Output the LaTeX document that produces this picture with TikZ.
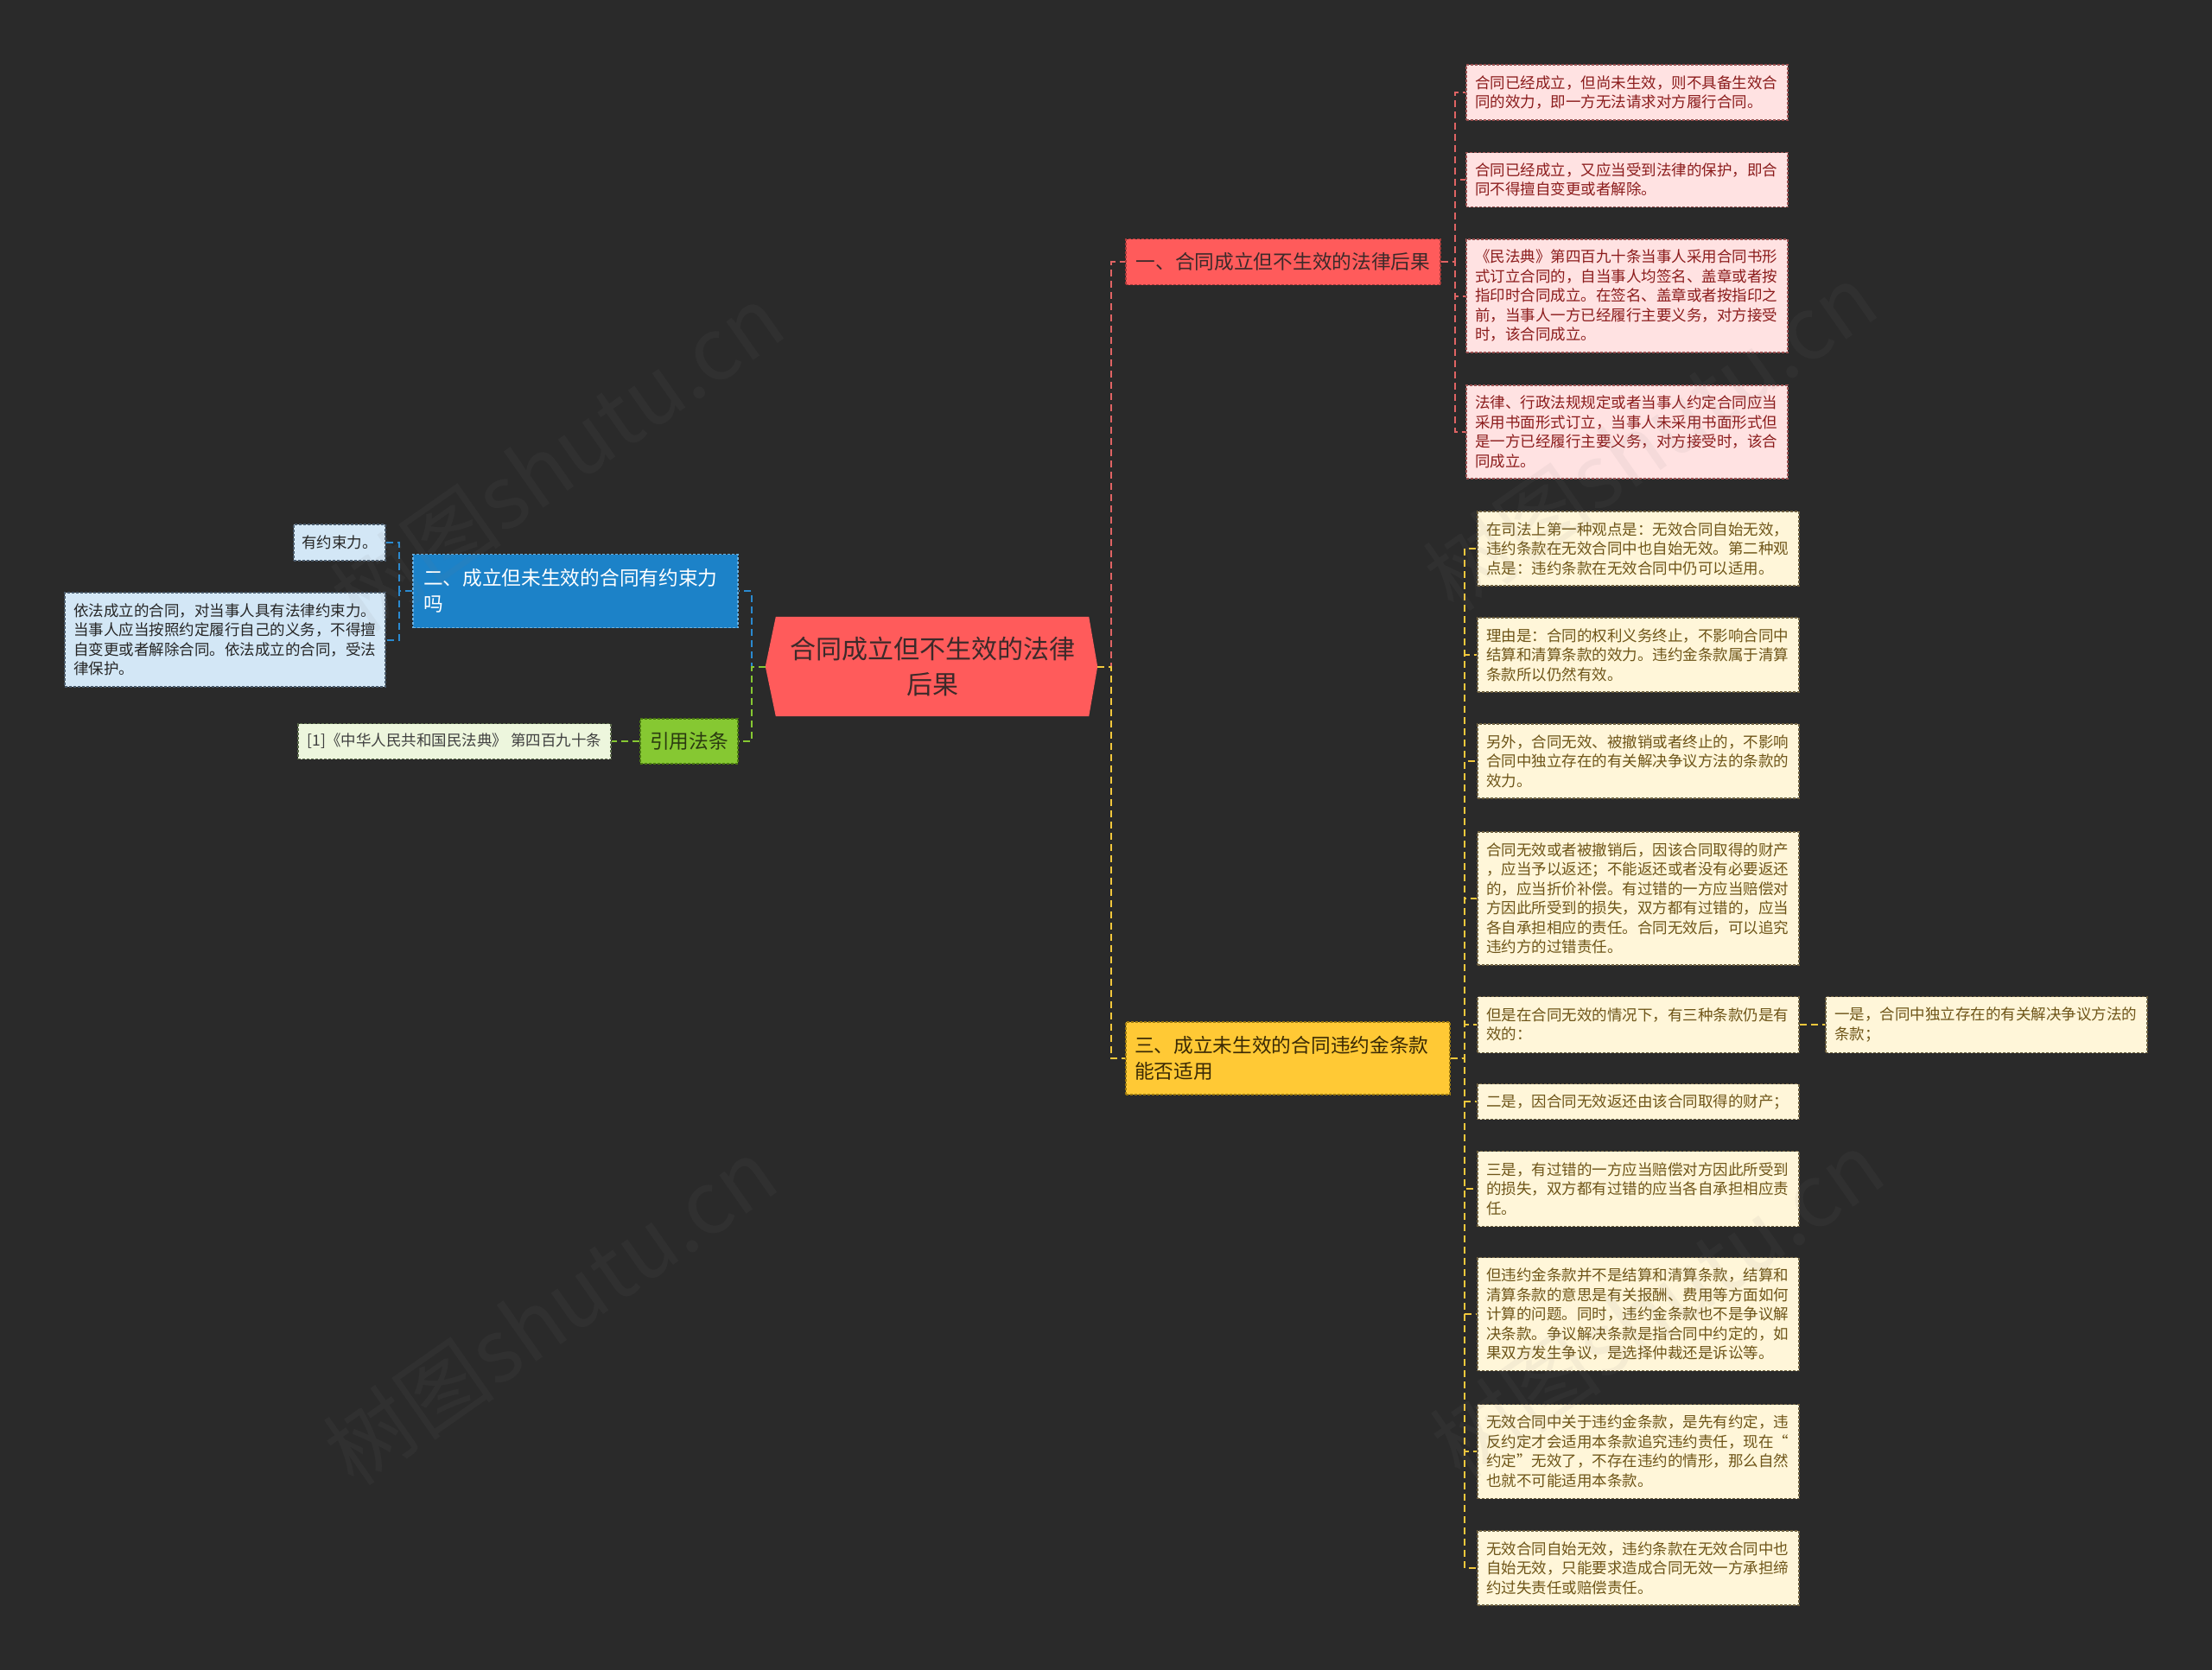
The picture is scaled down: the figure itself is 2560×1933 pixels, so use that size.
\documentclass[tikz,border=0pt]{standalone}
\usepackage{fontspec}
\newfontfamily\cjk{Noto Sans CJK SC}
\usetikzlibrary{calc}
\definecolor{bgc}{HTML}{2A2A2A}
\definecolor{cenfill}{HTML}{FF5B5B}
\definecolor{darktxt}{HTML}{3C2A2A}
\definecolor{redbd}{HTML}{A83A3A}
\definecolor{redleaf}{HTML}{FFE2E2}
\definecolor{redleafbd}{HTML}{9A5050}
\definecolor{redtxt}{HTML}{8B1C1C}
\definecolor{yelfill}{HTML}{FFC935}
\definecolor{yelbd}{HTML}{9A7810}
\definecolor{yeltxt}{HTML}{3A2A05}
\definecolor{yelleaf}{HTML}{FFF6D9}
\definecolor{yelleafbd}{HTML}{6E6040}
\definecolor{yelleaftxt}{HTML}{6E5518}
\definecolor{bluefill}{HTML}{1C82C8}
\definecolor{bluebd}{HTML}{6AB0E0}
\definecolor{blueleaf}{HTML}{D3E7F6}
\definecolor{blueleafbd}{HTML}{4A5A6A}
\definecolor{greenfill}{HTML}{86C832}
\definecolor{greenbd}{HTML}{4A7A10}
\definecolor{greentxt}{HTML}{2A3A10}
\definecolor{greenleaf}{HTML}{EDF6DD}
\definecolor{greenleafbd}{HTML}{5A6A4A}
\definecolor{conR}{HTML}{E06464}
\definecolor{conY}{HTML}{F2C83C}
\definecolor{conB}{HTML}{2A8AD0}
\definecolor{conG}{HTML}{86C832}
\pgfdeclarelayer{back}
\pgfdeclarelayer{bottom}
\pgfsetlayers{bottom,back,main}
\tikzset{
  boxbase/.style={rectangle, inner xsep=10pt, inner ysep=0pt, align=left,
    dash pattern=on 3pt off 2pt, line width=1.2pt},
  leaffont/.style={font=\cjk\fontsize{17.5}{22.5}\selectfont},
  brfont/.style={font=\cjk\fontsize{22.7}{30}\selectfont},
  leafR/.style={boxbase, leaffont, fill=redleaf, draw=redleafbd, text=redtxt,
    minimum width=372pt, text width=352pt},
  leafY/.style={boxbase, leaffont, fill=yelleaf, draw=yelleafbd, text=yelleaftxt,
    minimum width=372pt, text width=352pt},
  leafB/.style={boxbase, leaffont, fill=blueleaf, draw=blueleafbd, text=black!85},
  leafG/.style={boxbase, leaffont, fill=greenleaf, draw=greenleafbd, text=black!75},
  brR/.style={boxbase, brfont, fill=cenfill, draw=redbd, text=darktxt},
  brY/.style={boxbase, brfont, fill=yelfill, draw=yelbd, text=yeltxt},
  brB/.style={boxbase, brfont, fill=bluefill, draw=bluebd, text=white, inner xsep=12pt},
  brG/.style={boxbase, brfont, fill=greenfill, draw=greenbd, text=greentxt},
  link/.style={line width=2pt, dash pattern=on 8pt off 5pt},
  lkR/.style={link, draw=conR},
  lkY/.style={link, draw=conY},
  lkB/.style={link, draw=conB},
  lkG/.style={link, draw=conG},
  wmark/.style={font=\cjk\fontsize{100}{100}\selectfont, text=gray, text opacity=0.08, rotate=35}
}
\begin{document}
\begin{tikzpicture}[x=1pt,y=-1pt]
\useasboundingbox (0,0) rectangle (2560,1933);
\begin{pgfonlayer}{bottom}
\fill[bgc] (0,0) rectangle (2560,1933);
\end{pgfonlayer}

% central topic
\node[font=\cjk\fontsize{30}{41}\selectfont, text=darktxt, align=center, text width=340pt,
  minimum width=362pt, minimum height=115pt, inner sep=0pt] (c) at (1079,771.5)
  {合同成立但不生效的法律\\后果};
\coordinate (cr) at ($(c.east)+(10,0)$);
\coordinate (cl) at ($(c.west)+(-12,0)$);
\coordinate (jr) at ($(cr)+(16,0)$);
\coordinate (jl) at ($(cl)+(-16,0)$);

% main branches
\node[brR, minimum width=364pt, minimum height=53pt] (b1) at (1485,303)
  {一、合同成立但不生效的法律后果};
\node[brY, minimum width=375pt, text width=355pt, minimum height=84pt] (b3) at (1490.5,1225)
  {三、成立未生效的合同违约金条款\\能否适用};
\node[brB, minimum width=376pt, text width=352pt, minimum height=85pt] (b2) at (666,684)
  {二、成立但未生效的合同有约束力\\吗};
\node[brG, minimum width=113pt, minimum height=52pt] (b4) at (797.5,858)
  {引用法条};

% red leaves
\node[leafR, minimum height=64pt] (r1) at (1883,107)
  {合同已经成立，但尚未生效，则不具备生效合\\同的效力，即一方无法请求对方履行合同。};
\node[leafR, minimum height=63pt] (r2) at (1883,208)
  {合同已经成立，又应当受到法律的保护，即合\\同不得擅自变更或者解除。};
\node[leafR, minimum height=131pt] (r3) at (1883,342.5)
  {《民法典》第四百九十条当事人采用合同书形\\式订立合同的，自当事人均签名、盖章或者按\\指印时合同成立。在签名、盖章或者按指印之\\前，当事人一方已经履行主要义务，对方接受\\时，该合同成立。};
\node[leafR, minimum height=108pt] (r4) at (1883,500)
  {法律、行政法规规定或者当事人约定合同应当\\采用书面形式订立，当事人未采用书面形式但\\是一方已经履行主要义务，对方接受时，该合\\同成立。};

% yellow leaves
\node[leafY, minimum height=86pt] (y1) at (1896,635)
  {在司法上第一种观点是：无效合同自始无效，\\违约条款在无效合同中也自始无效。第二种观\\点是：违约条款在无效合同中仍可以适用。};
\node[leafY, minimum height=86pt] (y2) at (1896,758)
  {理由是：合同的权利义务终止，不影响合同中\\结算和清算条款的效力。违约金条款属于清算\\条款所以仍然有效。};
\node[leafY, minimum height=86pt] (y3) at (1896,881)
  {另外，合同无效、被撤销或者终止的，不影响\\合同中独立存在的有关解决争议方法的条款的\\效力。};
\node[leafY, minimum height=154pt] (y4) at (1896,1040)
  {合同无效或者被撤销后，因该合同取得的财产\\，应当予以返还；不能返还或者没有必要返还\\的，应当折价补偿。有过错的一方应当赔偿对\\方因此所受到的损失，双方都有过错的，应当\\各自承担相应的责任。合同无效后，可以追究\\违约方的过错责任。};
\node[leafY, minimum height=65pt] (y5) at (1896,1186)
  {但是在合同无效的情况下，有三种条款仍是有\\效的：};
\node[leafY, minimum height=65pt] (y5b) at (2299,1186)
  {一是，合同中独立存在的有关解决争议方法的\\条款；};
\node[leafY, minimum height=41pt] (y6) at (1896,1275)
  {二是，因合同无效返还由该合同取得的财产；};
\node[leafY, minimum height=87pt] (y7) at (1896,1376)
  {三是，有过错的一方应当赔偿对方因此所受到\\的损失，双方都有过错的应当各自承担相应责\\任。};
\node[leafY, minimum height=131pt] (y8) at (1896,1521)
  {但违约金条款并不是结算和清算条款，结算和\\清算条款的意思是有关报酬、费用等方面如何\\计算的问题。同时，违约金条款也不是争议解\\决条款。争议解决条款是指合同中约定的，如\\果双方发生争议，是选择仲裁还是诉讼等。};
\node[leafY, minimum height=109pt] (y9) at (1896,1680)
  {无效合同中关于违约金条款，是先有约定，违\\反约定才会适用本条款追究违约责任，现在“\\约定”无效了，不存在违约的情形，那么自然\\也就不可能适用本条款。};
\node[leafY, minimum height=86pt] (y10) at (1896,1815)
  {无效合同自始无效，违约条款在无效合同中也\\自始无效，只能要求造成合同无效一方承担缔\\约过失责任或赔偿责任。};

% blue leaves
\node[leafB, minimum width=106pt, minimum height=42pt, inner xsep=9pt] (bl1) at (393,628)
  {有约束力。};
\node[leafB, minimum width=371pt, text width=351pt, minimum height=109pt] (bl2) at (260.5,740.5)
  {依法成立的合同，对当事人具有法律约束力。\\当事人应当按照约定履行自己的义务，不得擅\\自变更或者解除合同。依法成立的合同，受法\\律保护。};

% green leaf
\node[leafG, minimum width=362pt, minimum height=41pt] (g1) at (526,858)
  {[1]《中华人民共和国民法典》 第四百九十条};

% shapes and connectors behind the boxes
\begin{pgfonlayer}{back}
  \fill[cenfill] (c.north west) -- (c.north east) -- (cr) -- (c.south east)
     -- (c.south west) -- (cl) -- cycle;
  \draw[lkR] (cr) -- (jr) |- (b1.west);
  \draw[lkY] (cr) -- (jr) |- (b3.west);
  \draw[lkB] (cl) -- (jl) |- (b2.east);
  \draw[lkG] (cl) -- (jl) |- (b4.east);
  \coordinate (jr1) at ($(b1.east)+(16,0)$);
  \foreach \n in {r1,r2,r3,r4} \draw[lkR] (b1.east) -- (jr1) |- (\n.west);
  \coordinate (jy1) at ($(b3.east)+(16,0)$);
  \foreach \n in {y1,y2,y3,y4,y5,y6,y7,y8,y9,y10} \draw[lkY] (b3.east) -- (jy1) |- (\n.west);
  \draw[lkY] (y5.east) -- (y5b.west);
  \coordinate (jb1) at ($(b2.west)+(-15,0)$);
  \foreach \n in {bl1,bl2} \draw[lkB] (b2.west) -- (jb1) |- (\n.east);
  \draw[lkG] (b4.west) -- (g1.east);
\end{pgfonlayer}

% watermarks
\node[wmark] (w1) at (645,530) {树图shutu.cn};
\node[wmark] (w2) at (1910,506) {树图shutu.cn};
\node[wmark] (w3) at (637,1518) {树图shutu.cn};
\node[wmark] (w4) at (1918,1510) {树图shutu.cn};
\end{tikzpicture}
\end{document}
